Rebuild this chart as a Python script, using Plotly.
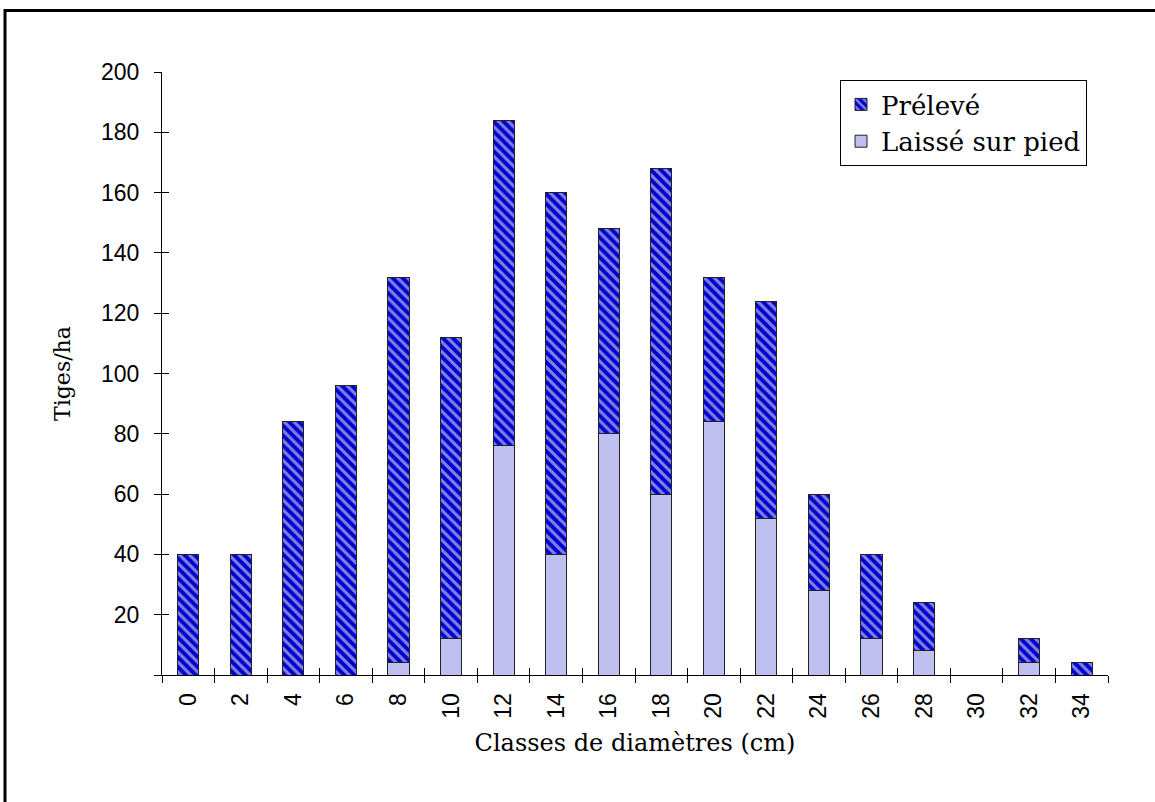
import numpy as np
import plotly.graph_objects as go

# ---- data ----
categories = ["0", "2", "4", "6", "8", "10", "12", "14", "16", "18",
              "20", "22", "24", "26", "28", "30", "32", "34"]
laisse = [0, 0, 0, 0, 4, 12, 76, 40, 80, 60, 84, 52, 28, 12, 8, 0, 4, 0]
total = [40, 40, 84, 96, 132, 112, 184, 160, 148, 168, 132, 124, 60, 40, 24, 0, 12, 4]
preleve = [t - l for t, l in zip(total, laisse)]
y_ticks = [0, 20, 40, 60, 80, 100, 120, 140, 160, 180, 200]
y_ticktext = ["", "20", "40", "60", "80", "100", "120", "140", "160", "180", "200"]

# ---- layout geometry (pixels) ----
W, H = 1155, 802
L, R, T, B = 162, 1155 - 1108, 72, 802 - 675
pw, ph = W - L - R, H - T - B


def px_x(p):
    return (p - L) / pw


def px_y(p):
    return (H - B - p) / ph


serif = "DejaVu Serif"
sans = "Liberation Sans, Arial, sans-serif"

fig = go.Figure()
fig.add_trace(go.Bar(
    x=categories, y=laisse, name="Laissé sur pied", legendgroup="a",
    legendrank=2,
    marker=dict(color="#C0C0F0", line=dict(color="#222222", width=1)),
))
fig.add_trace(go.Bar(
    x=categories, y=preleve, name="Prélevé", legendgroup="b",
    legendrank=1,
    marker=dict(color="#0000CC", line=dict(color="#222222", width=1),
                pattern=dict(shape="\\", bgcolor="#0000CC", fgcolor="white",
                             size=7, solidity=0.45)),
))
# invisible trace to carry overlay axes
fig.add_trace(go.Scatter(x=[None], y=[None], xaxis="x2", yaxis="y2",
                         showlegend=False, hoverinfo="skip"))

n = len(categories)
fig.update_layout(
    width=W, height=H,
    margin=dict(l=L, r=R, t=T, b=B),
    paper_bgcolor="white", plot_bgcolor="white",
    barmode="stack", bargap=0.6,
    showlegend=True,
    legend=dict(
        x=px_x(840), y=px_y(80), xanchor="left", yanchor="top",
        traceorder="grouped", tracegroupgap=0,
        bgcolor="white", bordercolor="black", borderwidth=1,
        font=dict(family=serif, size=26, color="black"),
    ),
    xaxis=dict(
        type="category", categoryorder="array", categoryarray=categories,
        tickson="boundaries", ticks="outside", ticklen=7, tickcolor="black",
        tickwidth=1, showline=True, linecolor="black", linewidth=1,
        showgrid=False, zeroline=False, tickangle=-90,
        tickfont=dict(family=sans, size=23, color="black"),
        ticklabelstandoff=8,
        title=dict(text="Classes de diamètres (cm)",
                   font=dict(family=serif, size=24, color="black"), standoff=16),
    ),
    yaxis=dict(
        range=[0, 200], tickmode="array", tickvals=y_ticks, ticktext=y_ticktext,
        ticks="outside", ticklen=7, tickcolor="black", tickwidth=1,
        showline=True, linecolor="black", linewidth=1,
        showgrid=False, zeroline=False,
        tickfont=dict(family=sans, size=23, color="black"),
        ticklabelstandoff=10,
        title=dict(text="Tiges/ha",
                   font=dict(family=serif, size=22, color="black"), standoff=24),
    ),
    xaxis2=dict(
        overlaying="x", range=[-0.5, n - 0.5], tickmode="array",
        tickvals=list(np.arange(-0.5, n, 1.0)), ticks="inside", ticklen=7,
        tickcolor="black", showticklabels=False, showline=False,
        showgrid=False, zeroline=False, side="bottom",
    ),
    yaxis2=dict(
        overlaying="y", range=[0, 200], tickmode="array", tickvals=y_ticks,
        ticks="inside", ticklen=7, tickcolor="black", showticklabels=False,
        showline=False, showgrid=False, zeroline=False, side="left",
    ),
    shapes=[
        dict(type="line", xref="paper", yref="paper",
             x0=px_x(5), x1=px_x(W + 20), y0=px_y(10.5), y1=px_y(10.5),
             line=dict(color="black", width=3), layer="above"),
        dict(type="line", xref="paper", yref="paper",
             x0=px_x(5), x1=px_x(5), y0=px_y(9), y1=px_y(H + 20),
             line=dict(color="black", width=3), layer="above"),
    ],
)

fig.write_html(
    "out.html",
    config={"displayModeBar": False},
    post_script="document.body.style.margin='0';document.body.style.overflow='hidden';",
)
